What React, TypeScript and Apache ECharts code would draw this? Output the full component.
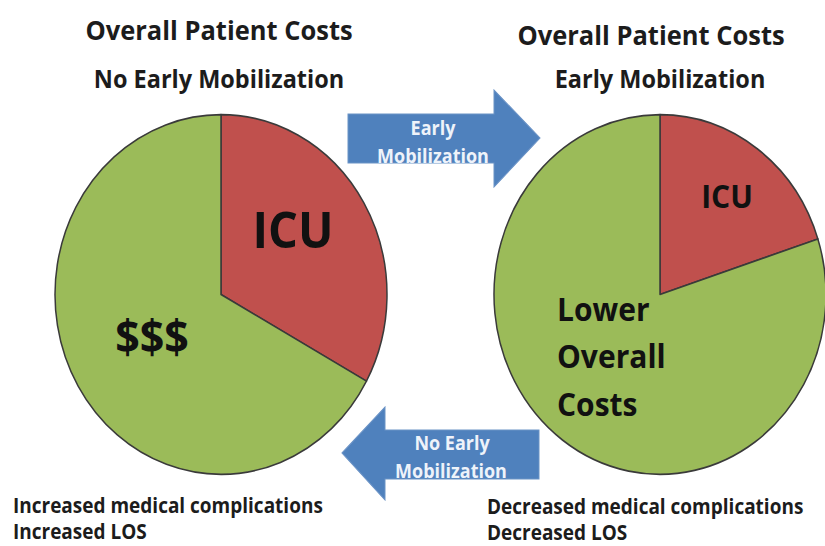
import React, { useEffect, useRef } from "react";
import * as echarts from "echarts";

// ---- data ----
const leftNames = ["ICU", "$$$"];
const leftValues = [33, 67];
const rightNames = ["ICU", "Lower\nOverall\nCosts"];
const rightValues = [20, 80];
const titles = ["Overall Patient Costs", "Overall Patient Costs"];
const subtitles = ["No Early Mobilization", "Early Mobilization"];
const arrowTexts = [["Early", "Mobilization"], ["No Early", "Mobilization"]];
const leftNotes = ["Increased medical complications", "Increased LOS"];
const rightNotes = ["Decreased medical complications", "Decreased LOS"];

const W = 825;
const H = 504;
const S = 546 / H; // vertical stretch of the picture
const Y = (v: number) => v / S;

const RED = "#C0504D";
const GREEN = "#9BBB59";
const BLUE = "#4F81BD";
const FONT = "'Open Sans', Lato, sans-serif";
const INK = "#1c1c1c";

function txt(text: string, x: number, y: number, size: number, opts: any = {}) {
  return {
    type: "text",
    x,
    y: Y(y),
    silent: true,
    style: {
      text,
      fontSize: size,
      lineHeight: size,
      fontWeight: "bold",
      fontFamily: FONT,
      fill: opts.fill || INK,
      align: opts.align || "center",
      verticalAlign: "middle",
    },
  };
}

export default function App() {
  const ref = useRef<HTMLDivElement>(null);
  useEffect(() => {
    if (!ref.current) return;
    const chart = echarts.init(ref.current, undefined, { renderer: "svg" });

    const labelPos: Record<string, any> = {
      "0-0": { x: 293, y: 228, align: "center" },
      "0-1": { x: 152, y: 336, align: "center" },
      "1-0": { x: 727, y: 196, align: "center" },
      "1-1": { x: 557, y: 356, align: "left" },
    };
    const labelSizes = [
      [47, 43],
      [30, 30],
    ];

    const pie = (idx: number, cx: number, names: string[], values: number[]) => ({
      type: "pie",
      center: [cx, Y(294.5)],
      radius: [0, 166],
      startAngle: 90,
      clockwise: true,
      silent: true,
      itemStyle: { borderColor: "#3a3a3a", borderWidth: 1.5 },
      label: {
        show: true,
        position: "inside",
        formatter: (p: any) => p.name,
        fontFamily: FONT,
        fontWeight: "bold",
        color: "#111",
        lineHeight: Y(47.5),
      },
      labelLine: { show: false },
      labelLayout: (p: any) => {
        const l = labelPos[idx + "-" + p.dataIndex];
        return { x: l.x, y: Y(l.y), align: l.align, verticalAlign: "middle" };
      },
      data: names.map((n, i) => ({
        name: n,
        value: values[i],
        itemStyle: { color: i === 0 ? RED : GREEN },
        label: { fontSize: labelSizes[idx][i] },
      })),
    });

    const rightArrow = {
      type: "polygon",
      silent: true,
      shape: {
        points: [
          [348, Y(114)],
          [494, Y(114)],
          [494, Y(90)],
          [540, Y(138)],
          [494, Y(187)],
          [494, Y(163)],
          [348, Y(163)],
        ],
      },
      style: { fill: BLUE, stroke: "#6b93c6", lineWidth: 1 },
    };
    const leftArrow = {
      type: "polygon",
      silent: true,
      shape: {
        points: [
          [342, Y(453)],
          [385, Y(407)],
          [385, Y(430)],
          [539, Y(430)],
          [539, Y(479)],
          [385, Y(479)],
          [385, Y(500)],
        ],
      },
      style: { fill: BLUE, stroke: "#6b93c6", lineWidth: 1 },
    };

    chart.setOption({
      animation: false,
      backgroundColor: "#ffffff",
      series: [pie(0, 221, leftNames, leftValues), pie(1, 660, rightNames, rightValues)],
      graphic: [
        rightArrow,
        leftArrow,
        txt(titles[0], 219, 29.5, 25.5),
        txt(subtitles[0], 219, 78, 23.5),
        txt(titles[1], 651, 35, 25.5),
        txt(subtitles[1], 660, 78, 23.5),
        txt(arrowTexts[0][0], 433, 127, 18, { fill: "#eef3fa" }),
        txt(arrowTexts[0][1], 433, 155, 18, { fill: "#eef3fa" }),
        txt(arrowTexts[1][0], 452, 442, 18, { fill: "#eef3fa" }),
        txt(arrowTexts[1][1], 451, 470, 18, { fill: "#eef3fa" }),
        txt(leftNotes[0], 13, 505, 19, { align: "left" }),
        txt(leftNotes[1], 13, 531, 19, { align: "left" }),
        txt(rightNotes[0], 487, 506, 19, { align: "left" }),
        txt(rightNotes[1], 487, 532, 19, { align: "left" }),
      ],
    });
    return () => chart.dispose();
  }, []);

  return (
    <div
      style={{
        position: "absolute",
        left: 0,
        top: 0,
        width: W,
        height: 546,
        overflow: "hidden",
        background: "#fff",
      }}
    >
      <div
        ref={ref}
        style={{
          width: W,
          height: H,
          transform: `scaleY(${S})`,
          transformOrigin: "0 0",
        }}
      />
    </div>
  );
}
